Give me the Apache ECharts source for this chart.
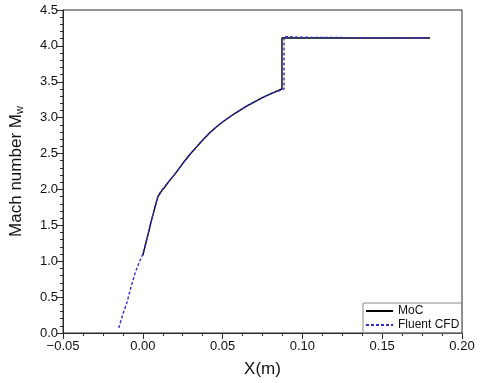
<!DOCTYPE html>
<html>
<head>
<meta charset="utf-8">
<script src="https://cdn.jsdelivr.net/npm/echarts@6/dist/echarts.min.js"></script>
<style>
  html, body { margin: 0; padding: 0; background: #fff; }
  #chart { width: 480px; height: 383px; }
</style>
</head>
<body>
<div id="chart"></div>
<script>
// MoC solution (solid)
const mocX = [0.0, 0.0025, 0.005, 0.0075, 0.0095, 0.0115, 0.014, 0.017, 0.020, 0.023, 0.026, 0.030, 0.034, 0.038, 0.042, 0.046, 0.050, 0.055, 0.060, 0.065, 0.070, 0.075, 0.080, 0.0872, 0.0872, 0.18];
const mocY = [1.08, 1.30, 1.53, 1.74, 1.90, 1.97, 2.04, 2.13, 2.21, 2.30, 2.39, 2.50, 2.60, 2.70, 2.79, 2.87, 2.94, 3.02, 3.09, 3.16, 3.22, 3.28, 3.33, 3.40, 4.11, 4.11];

// Fluent CFD (dashed)
const cfdX = [-0.0151, -0.0125, -0.01, -0.0075, -0.0049, -0.0025, 0.0, 0.0025, 0.005, 0.0075, 0.0095, 0.0115, 0.014, 0.017, 0.020, 0.023, 0.026, 0.030, 0.034, 0.038, 0.042, 0.046, 0.050, 0.055, 0.060, 0.065, 0.070, 0.075, 0.080, 0.0885, 0.0885, 0.10, 0.13, 0.18];
const cfdY = [0.07, 0.26, 0.42, 0.63, 0.83, 0.97, 1.10, 1.31, 1.53, 1.75, 1.91, 1.98, 2.05, 2.13, 2.21, 2.30, 2.39, 2.50, 2.60, 2.70, 2.79, 2.87, 2.94, 3.02, 3.09, 3.16, 3.22, 3.28, 3.33, 3.40, 4.13, 4.12, 4.115, 4.11];

const xTicks = [-0.05, 0.0, 0.05, 0.10, 0.15, 0.20];
const yTicks = [0, 0.5, 1.0, 1.5, 2.0, 2.5, 3.0, 3.5, 4.0, 4.5];

const zip = (xs, ys) => xs.map((x, i) => [x, ys[i]]);

const font = 'Liberation Sans, Arial, sans-serif';
const axisColor = '#2b2b2b';

const chart = echarts.init(document.getElementById('chart'));
chart.setOption({
  animation: false,
  grid: {
    left: 57, right: 18, top: 10, bottom: 46,
    show: true, borderColor: axisColor, borderWidth: 1
  },
  legend: {
    left: 363, top: 303,
    orient: 'vertical',
    itemWidth: 27, itemHeight: 12, itemGap: 2,
    padding: [2, 3, 2, 2],
    borderColor: '#8a8a8a', borderWidth: 1,
    itemStyle: { opacity: 0 },
    textStyle: { fontFamily: font, fontSize: 12, color: '#111' },
    data: ['MoC', 'Fluent CFD']
  },
  xAxis: {
    type: 'value',
    min: xTicks[0], max: xTicks[xTicks.length - 1], interval: 0.05,
    name: 'X(m)', nameLocation: 'middle', nameGap: 28,
    nameTextStyle: { fontFamily: font, fontSize: 17, color: '#111' },
    axisLine: { onZero: false, lineStyle: { color: axisColor } },
    axisTick: { length: 6, lineStyle: { color: axisColor } },
    minorTick: { show: true, splitNumber: 4, length: 3, lineStyle: { color: axisColor } },
    splitLine: { show: false },
    axisLabel: {
      fontFamily: font, fontSize: 13, color: '#111', margin: 7,
      formatter: v => (v < 0 ? '\u2212' : '') + Math.abs(v).toFixed(2)
    }
  },
  yAxis: {
    type: 'value',
    min: yTicks[0], max: yTicks[yTicks.length - 1], interval: 0.5,
    name: '{a|Mach number M}{s|w}', nameLocation: 'middle', nameGap: 38,
    nameTextStyle: {
      fontFamily: font, fontSize: 17, color: '#111',
      rich: {
        a: { fontFamily: font, fontSize: 17, color: '#111' },
        s: { fontFamily: font, fontSize: 11, color: '#111', verticalAlign: 'bottom', padding: [6, 0, 0, 0] }
      }
    },
    axisLine: { show: true, onZero: false, lineStyle: { color: axisColor } },
    axisTick: { show: true, length: 6, lineStyle: { color: axisColor } },
    minorTick: { show: true, splitNumber: 5, length: 3, lineStyle: { color: axisColor } },
    splitLine: { show: false },
    axisLabel: {
      fontFamily: font, fontSize: 13, color: '#111', margin: 5,
      formatter: v => v.toFixed(1)
    }
  },
  series: [
    {
      name: 'MoC', type: 'line', symbol: 'none',
      data: zip(mocX, mocY),
      lineStyle: { color: '#000', width: 1.4 },
      itemStyle: { color: '#000' }
    },
    {
      name: 'Fluent CFD', type: 'line', symbol: 'none',
      data: zip(cfdX, cfdY),
      lineStyle: { color: '#2f2fc8', width: 1.4, type: [3, 2] },
      itemStyle: { color: '#2f2fc8' }
    }
  ]
});
</script>
</body>
</html>
